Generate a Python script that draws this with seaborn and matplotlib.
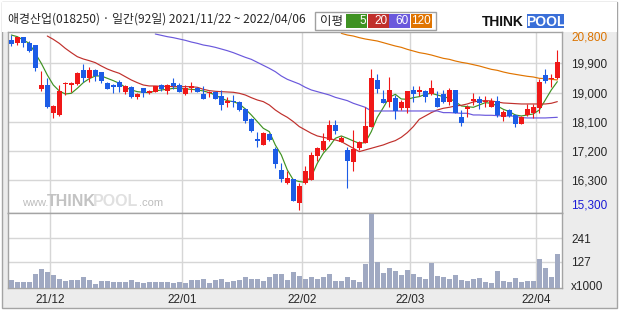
import numpy as np
import pandas as pd
import matplotlib
matplotlib.use("Agg")
import matplotlib.pyplot as plt
from matplotlib.patches import Rectangle
import seaborn as sns

# ---------------- data ----------------
title = "애경산업(018250) · 일간(92일) 2021/11/22 ~ 2022/04/06"

opens = [20619, 20516, 20701, 20516, 20465, 19109, 19232, 18380, 18308, 19253,
         19222, 19263, 19695, 19458, 19695, 19633, 19304, 19232, 19315, 19017,
         19181, 18873, 19130, 18976, 19027, 19232, 19048, 19304, 19232, 18966,
         19150, 19130, 18955, 18976, 19027, 18893, 18688, 18750, 18709, 18493,
         18174, 17579, 17394, 17723, 17261, 16614, 16223, 16336, 15586, 16223,
         16306, 17045, 17230, 17538, 18000, 17487, 17230, 16850, 17281, 17456,
         17949, 19387, 18801, 18719, 18822, 18534, 18534, 19068, 19027, 19048,
         18955, 18822, 18955, 18719, 19079, 18236, 18483, 18750, 18801, 18698,
         18565, 18739, 18236, 18462, 18308, 18031, 18308, 18360, 18534, 19540,
         19407, 19438]
highs = [20783, 20722, 20722, 20588, 20465, 19674, 19438, 18616, 19232, 19335,
         19335, 19633, 19869, 19777, 19715, 19633, 19325, 19253, 19387, 19232,
         19202, 18996, 19150, 19079, 19212, 19263, 19253, 19438, 19284, 19232,
         19335, 19181, 19202, 19058, 19058, 19079, 18873, 18924, 18729, 18513,
         18205, 17795, 17774, 17764, 17333, 16839, 16583, 16346, 16203, 16737,
         17179, 17333, 17764, 18154, 18154, 17661, 17333, 17846, 17518, 18544,
         19715, 19561, 19079, 19489, 18924, 18770, 19058, 19202, 19202, 19079,
         19387, 19048, 19079, 19150, 19079, 18462, 18616, 18996, 18893, 18893,
         18822, 18893, 18462, 18483, 18329, 18288, 18647, 18647, 19407, 19725,
         19571, 20311]
lows = [20444, 20455, 20393, 20249, 19674, 19058, 18513, 18226, 18288, 18924,
        19007, 19232, 19315, 19335, 19356, 19284, 19099, 18976, 19007, 18955,
        18822, 18791, 18873, 18945, 19007, 19038, 18955, 19109, 19007, 18935,
        19007, 19017, 18801, 18873, 18791, 18462, 18565, 18565, 18442, 18051,
        17795, 17333, 17384, 17507, 16665, 16254, 16172, 15648, 15381, 16182,
        16295, 16901, 17210, 17518, 17723, 17476, 16069, 16593, 17230, 17436,
        17928, 18976, 18667, 18544, 18185, 18462, 18380, 18719, 18904, 18719,
        18924, 18555, 18688, 18616, 18360, 17969, 18236, 18616, 18483, 18565,
        18544, 18236, 18134, 18257, 17949, 18031, 18277, 18205, 18380, 19284,
        19181, 19407]
closes = [20496, 20701, 20516, 20290, 19766, 19232, 18544, 18585, 19048, 19284,
          19304, 19592, 19458, 19695, 19520, 19366, 19119, 19171, 19181, 19202,
          18873, 18955, 18976, 19048, 19202, 19109, 19232, 19212, 19027, 19140,
          19171, 19027, 18811, 19017, 18801, 18626, 18750, 18698, 18462, 18123,
          17815, 17497, 17764, 17538, 16798, 16336, 16367, 15658, 16120, 16583,
          17076, 17281, 17518, 18000, 17825, 17610, 16901, 17250, 17476, 17969,
          19438, 19109, 18678, 19079, 18431, 18719, 19048, 18945, 19079, 18873,
          19130, 18565, 18719, 19079, 18380, 18072, 18565, 18791, 18688, 18750,
          18750, 18308, 18411, 18277, 18031, 18236, 18493, 18544, 19335, 19366,
          19438, 19931]
volume = [40, 31, 31, 31, 69, 93, 79, 64, 45, 35,
          40, 40, 55, 40, 21, 35, 35, 31, 31, 31,
          40, 31, 26, 31, 31, 31, 31, 26, 31, 26,
          40, 40, 45, 26, 40, 45, 31, 35, 40, 55,
          45, 45, 35, 55, 69, 69, 40, 79, 59, 45,
          55, 45, 55, 69, 35, 35, 55, 40, 31, 117,
          359, 127, 74, 98, 84, 64, 88, 69, 55, 45,
          122, 59, 55, 45, 64, 40, 35, 45, 50, 31,
          26, 84, 35, 31, 50, 31, 35, 35, 142, 98,
          55, 166]
ma5 = [20773, 20722, 20619, 20516, 20208, 19900, 19541, 19232, 19048, 18955,
       18976, 19130, 19304, 19428, 19510, 19510, 19438, 19366, 19284, 19161,
       19079, 19027, 19007, 18996, 19048, 19079, 19099, 19130, 19130, 19109,
       19099, 19079, 19048, 18996, 18924, 18822, 18750, 18719, 18647, 18493,
       18308, 18103, 17897, 17795, 17384, 17076, 16614, 16306, 16254, 16234,
       16408, 16819, 17127, 17333, 17589, 17661, 17589, 17507, 17435, 17456,
       17795, 18236, 18534, 18852, 18945, 18801, 18791, 18842, 18873, 18945,
       18976, 18924, 18873, 18822, 18719, 18586, 18565, 18544, 18616, 18688,
       18668, 18586, 18483, 18411, 18308, 18277, 18308, 18339, 18462, 18770,
       19079, 19335]
ma20 = [None, None, None, None, None, None, 20742, 20639, 20516, 20362,
        20229, 20105, 20034, 19982, 19921, 19818, 19725, 19654, 19592, 19489,
        19387, 19304, 19232, 19202, 19202, 19191, 19191, 19181, 19181, 19181,
        19181, 19161, 19099, 19058, 19037, 19027, 19017, 19007, 18976, 18924,
        18842, 18770, 18719, 18616, 18462, 18339, 18236, 18103, 17949, 17846,
        17743, 17661, 17620, 17579, 17538, 17487, 17384, 17281, 17178, 17230,
        17281, 17333, 17384, 17456, 17517, 17620, 17764, 17949, 18175, 18277,
        18380, 18462, 18514, 18544, 18586, 18606, 18647, 18709, 18740, 18750,
        18740, 18709, 18678, 18668, 18657, 18647, 18647, 18647, 18647, 18647,
        18668, 18719]
ma60 = [None] * 24 + [
        20804, 20763, 20722, 20691, 20650, 20609, 20557, 20516, 20465, 20434,
        20393, 20342, 20290, 20229, 20157, 20085, 20023, 19931, 19838, 19746,
        19643, 19510, 19407, 19335, 19263, 19161, 19079, 19027, 18976, 18924,
        18852, 18801, 18750, 18668, 18606, 18544, 18431, 18431, 18431, 18431,
        18431, 18431, 18431, 18431, 18431, 18431, 18431, 18431, 18380, 18380,
        18370, 18360, 18360, 18308, 18308, 18298, 18298, 18288, 18277, 18277,
        18267, 18226, 18216, 18216, 18216, 18216, 18226, 18236]
ma120 = [None] * 55 + [
        20824, 20773, 20742, 20691, 20650, 20619, 20588, 20537, 20485, 20434,
        20393, 20331, 20280, 20229, 20198, 20157, 20105, 20054, 20023, 19972,
        19931, 19900, 19859, 19818, 19766, 19715, 19684, 19633, 19592, 19561,
        19530, 19500, 19479, 19438, 19428, 19407, 19387]

price_ticks = [16300, 17200, 18100, 19000, 19900]
price_tick_labels = ["16,300", "17,200", "18,100", "19,000", "19,900"]
price_max_label = "20,800"
price_min_label = "15,300"
vol_ticks = [127, 241]
vol_tick_labels = ["127", "241"]
vol_unit = "x1000"
month_bounds = [6.5, 28.5, 48.5, 66.5, 87.5]
month_labels = ["21/12", "22/01", "22/02", "22/03", "22/04"]
ma_names = ["5", "20", "60", "120"]

# ---------------- styling ----------------
sns.set_style("white")
plt.rcParams["font.family"] = ["Noto Sans CJK KR", "DejaVu Sans"]

RED = "#f01818"
BLUE = "#1c5ce6"
MA_COLORS = ["#3f9222", "#c0302c", "#6a58dc", "#e07400"]
GRID = "#d6d6d6"
FRAME = "#a4a4a4"
NUMFONT = ["Liberation Sans", "DejaVu Sans"]

W, H = 620, 310
def fx(px):
    return px / W
def fy(py):
    return 1 - py / H

def frect(x0, y0, x1, y1, **kw):
    r = Rectangle((fx(x0), fy(y1)), fx(x1) - fx(x0), fy(y0) - fy(y1),
                  transform=fig.transFigure, **kw)
    fig.patches.append(r)
    return r

fig = plt.figure(figsize=(W / 100, H / 100), dpi=100)
fig.patch.set_facecolor("white")
frect(1.5, 1.5, 617, 308, facecolor="#ececec", edgecolor=FRAME, lw=1, zorder=-10)
frect(2, 2, 616.5, 31.7, facecolor="white", edgecolor="none", zorder=-9)

n = len(closes)
idx = np.arange(n)
o = np.array(opens, float); c = np.array(closes, float)
hi = np.array(highs, float); lo = np.array(lows, float)
cols = np.where(c >= o, RED, BLUE)

XL = (-0.55, 91.7)
L, R = 8, 561.5

# ---------------- price panel ----------------
ax = fig.add_axes([fx(L), fy(212.7), fx(R) - fx(L), fy(31.7) - fy(212.7)])
ax.set_zorder(5)
ax.set_facecolor("white")
ax.vlines(idx, lo, hi, colors=cols, lw=0.8, zorder=3)
ax.bar(idx, np.maximum(np.abs(c - o), 55), bottom=np.minimum(o, c), width=0.8,
       color=cols, lw=0, zorder=4)
for ma, colr in zip([ma5, ma20, ma60, ma120], MA_COLORS):
    s = pd.Series(ma, dtype=float)
    m = s.notna().values
    sns.lineplot(x=idx[m], y=s.values[m], ax=ax, color=colr, lw=0.85,
                 estimator=None, sort=False, zorder=2.5)
ax.set_xlim(*XL)
ax.set_ylim(15295, 20875)
ax.set_xticks(month_bounds)
ax.yaxis.tick_right()
ax.set_yticks(price_ticks, labels=price_tick_labels)
ax.tick_params(length=0, labelbottom=False, labelright=True, pad=7,
               labelsize=8.5)
for t in ax.get_yticklabels():
    t.set_family(NUMFONT)
ax.grid(True, color=GRID, lw=1)
ax.set_axisbelow(True)
for sp in ax.spines.values():
    sp.set_color(FRAME); sp.set_linewidth(1)
ax.set_xlabel(""); ax.set_ylabel("")

# watermark inside the price panel
fig.text(fx(22), fy(203), "www.", fontsize=8, color="#bdbdbd",
         family=NUMFONT, va="center", ha="left", zorder=6)
fig.text(fx(47), fy(202), "THINK", fontsize=11.5, fontweight="bold", color="#c3c3c3",
         family=NUMFONT, va="center", ha="left", zorder=6)
fig.text(fx(93), fy(202), "POOL", fontsize=11.5, fontweight="bold", color="#e0e0e0",
         family=NUMFONT, va="center", ha="left", zorder=6)
fig.text(fx(139), fy(203), ".com", fontsize=8, color="#bdbdbd", family=NUMFONT,
         va="center", ha="left", zorder=6)

fig.text(fx(571), fy(38), price_max_label, color="#dc7400", fontsize=8.5,
         family=NUMFONT, va="center", ha="left")
fig.text(fx(571), fy(206), price_min_label, color="#1a1ad6", fontsize=8.5,
         family=NUMFONT, va="center", ha="left")

# ---------------- volume panel ----------------
vax = fig.add_axes([fx(L), fy(288.3), fx(R) - fx(L), fy(212.7) - fy(288.3)])
vax.set_zorder(5)
vax.set_facecolor("white")
sns.barplot(x=idx, y=volume, native_scale=True, width=0.8, color="#a0a9c2",
            saturation=1, errorbar=None, linewidth=0, ax=vax, zorder=3)
vax.set_xlim(*XL)
vax.set_ylim(0, 365)
vax.set_xticks(month_bounds)
vax.yaxis.tick_right()
vax.set_yticks(vol_ticks, labels=vol_tick_labels)
vax.tick_params(length=0, labelbottom=False, labelright=True, pad=7,
                labelsize=8.5)
for t in vax.get_yticklabels():
    t.set_family(NUMFONT)
vax.grid(True, color=GRID, lw=1)
vax.set_axisbelow(True)
for sp in vax.spines.values():
    sp.set_color(FRAME); sp.set_linewidth(1)
vax.set_xlabel(""); vax.set_ylabel("")
fig.text(fx(571), fy(286.5), vol_unit, fontsize=8.5, family=NUMFONT,
         va="center", ha="left")

# month labels under the volume panel
for b, lab in zip(month_bounds, month_labels):
    xpix = 11.3 + 6 * b
    fig.text(fx(xpix), fy(300), lab, fontsize=8.5, family=NUMFONT,
             ha="center", va="center")

# ---------------- header ----------------
fig.text(fx(8), fy(19), title, fontsize=8.6, va="center", ha="left",
         family=["Noto Sans CJK KR", "DejaVu Sans"])

# MA legend box
frect(315, 12, 436, 29.5, facecolor="white", edgecolor="#a0a0a0", lw=1, zorder=1)
fig.text(fx(320), fy(21), "이평", fontsize=9, va="center", ha="left",
         family=["Noto Sans CJK KR", "DejaVu Sans"])
box_x = [(346, 367), (368, 388.5), (389.5, 410), (411, 432)]
for (x0, x1), lab, colr in zip(box_x, ma_names, MA_COLORS):
    frect(x0, 14, x1, 28, facecolor=colr, edgecolor="none", zorder=2)
    fig.text(fx(x1 - 1), fy(21), lab, fontsize=8.5, color="white",
             family=NUMFONT, va="center", ha="right", zorder=3)

# THINKPOOL logo
fig.text(fx(482), fy(21.5), "THINK", fontsize=10, fontweight="bold", color="#111111",
         family=NUMFONT, va="center", ha="left")
frect(527, 14, 564, 28, facecolor="#3a6fd8", edgecolor="none", zorder=1)
fig.text(fx(545.5), fy(21.5), "POOL", fontsize=10, fontweight="bold", color="white",
         family=NUMFONT, va="center", ha="center", zorder=3)

fig.savefig("out.png", dpi=100, facecolor=fig.get_facecolor())
